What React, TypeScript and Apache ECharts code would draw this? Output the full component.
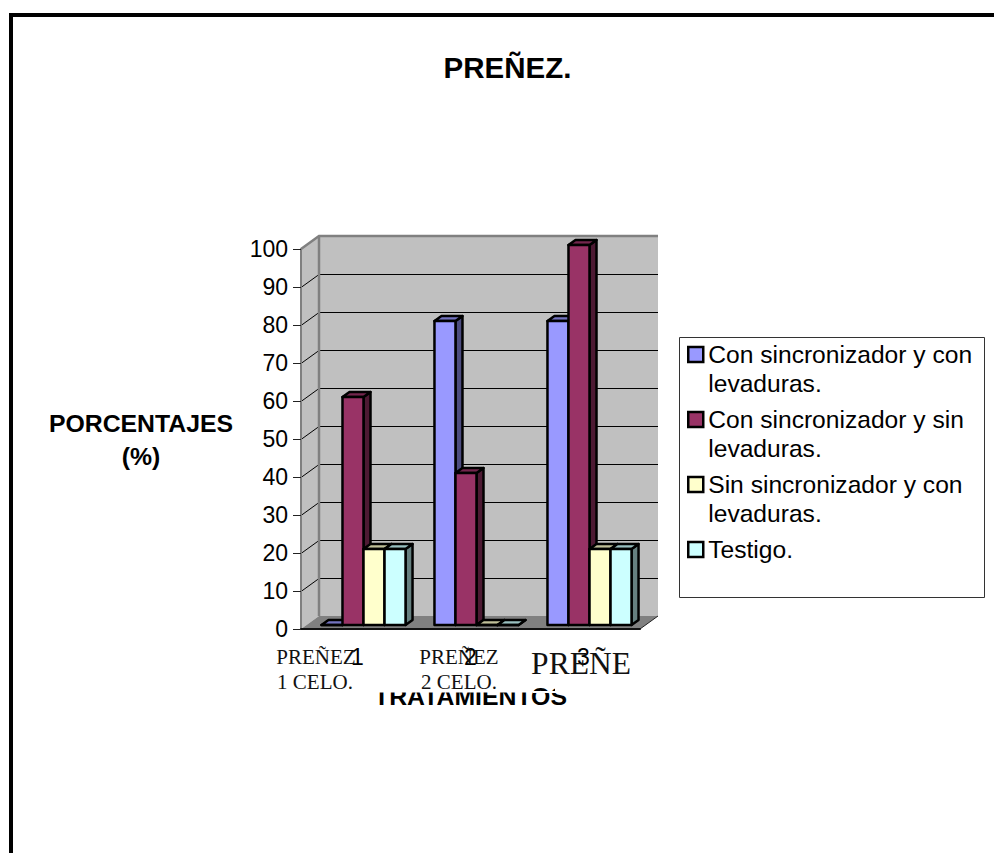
import React, { useEffect, useRef } from "react";
import * as echarts from "echarts";

const categories = ["1", "2", "3"];
const seriesNames = [
  "Con sincronizador y con\nlevaduras.",
  "Con sincronizador y sin\nlevaduras.",
  "Sin sincronizador y con\nlevaduras.",
  "Testigo.",
];
const conCon = [0, 80, 80];
const conSin = [60, 40, 100];
const sinCon = [20, 0, 20];
const testigo = [20, 0, 20];
const seriesValues = [conCon, conSin, sinCon, testigo];
const frontColors = ["#9999FF", "#993366", "#FFFFCC", "#CCFFFF"];
const sideColors = ["#4D4D80", "#4D1A33", "#808066", "#668080"];
const topColors = ["#7373BF", "#73264D", "#BFBF99", "#99BFBF"];
const yTicks = [10, 20, 30, 40, 50, 60, 70, 80, 90];
const SANS = "'Liberation Sans', Arial, sans-serif";
const SERIF = "'Liberation Serif', 'Times New Roman', serif";

const WALL_DX = 18;
const WALL_DY = -13;
const BAR_DX = 7;
const BAR_DY = -5;

function renderWalls(_p: any, api: any) {
  const w = api.size([1, 0])[0];
  const x0 = api.coord([0, 0])[0] - w / 2;
  const x1 = api.coord([categories.length - 1, 0])[0] + w / 2;
  const y0 = api.coord([0, 0])[1];
  const y100 = api.coord([0, 100])[1];
  const bx0 = x0 + WALL_DX;
  const bx1 = x1 + WALL_DX;
  const by0 = y0 + WALL_DY;
  const by100 = y100 + WALL_DY;
  const children: any[] = [
    { type: "rect", shape: { x: bx0, y: by100, width: bx1 - bx0, height: by0 - by100 }, style: { fill: "#C0C0C0" } },
    { type: "polygon", shape: { points: [[x0, y0], [bx0, by0], [bx0, by100], [x0, y100]] }, style: { fill: "#C0C0C0" } },
    { type: "polygon", shape: { points: [[x0, y0], [x1, y0], [bx1, by0], [bx0, by0]] }, style: { fill: "#808080" } },
  ];
  yTicks.forEach((v) => {
    const y = api.coord([0, v])[1] + 0.5;
    children.push({
      type: "polyline",
      shape: { points: [[x0, y], [bx0, y + WALL_DY], [bx1, y + WALL_DY]] },
      style: { fill: "none", stroke: "#000", lineWidth: 1 },
    });
  });
  children.push({
    type: "polyline",
    shape: { points: [[x0, y100], [bx0, by100], [bx1, by100]] },
    style: { fill: "none", stroke: "#808080", lineWidth: 2.5 },
  });
  children.push({
    type: "line",
    shape: { x1: bx0, y1: by100, x2: bx0, y2: by0 },
    style: { stroke: "#808080", lineWidth: 2.5 },
  });
  children.push({
    type: "line",
    shape: { x1: bx1, y1: by0, x2: x1, y2: y0 },
    style: { stroke: "#222", lineWidth: 1 },
  });
  return { type: "group", children };
}

function makeBarRenderer(k: number) {
  return (_p: any, api: any) => {
    const cat = api.value(0);
    const val = api.value(1);
    const base = api.coord([cat, 0]);
    const top = api.coord([cat, val]);
    const bw = api.size([1, 0])[0] * 0.186;
    const xl = base[0] + 6 - 2 * bw + k * bw;
    const xr = xl + bw;
    const yb = base[1] - 4;
    const yt = top[1] - 4;
    const stroke = { stroke: "#000", lineWidth: 2.5, lineJoin: "round" };
    return {
      type: "group",
      children: [
        { type: "polygon", shape: { points: [[xr, yb], [xr + BAR_DX, yb + BAR_DY], [xr + BAR_DX, yt + BAR_DY], [xr, yt]] }, style: { fill: sideColors[k], ...stroke } },
        { type: "polygon", shape: { points: [[xl, yt], [xr, yt], [xr + BAR_DX, yt + BAR_DY], [xl + BAR_DX, yt + BAR_DY]] }, style: { fill: topColors[k], ...stroke } },
        { type: "rect", shape: { x: xl, y: yt, width: bw, height: yb - yt }, style: { fill: frontColors[k], ...stroke } },
      ],
    };
  };
}

export default function App() {
  const ref = useRef<HTMLDivElement>(null);
  useEffect(() => {
    const chart = echarts.init(ref.current!, undefined, { renderer: "svg" });
    const serif = (text: string, x: number, y: number, size: number) => ({
      type: "text",
      z: 7,
      style: { text, x, y, align: "center", verticalAlign: "middle", font: `${size}px ${SERIF}`, fill: "#111" },
    });
    const white = (x: number, y: number, width: number, height: number) => ({
      type: "rect",
      z: 6,
      shape: { x, y, width, height },
      style: { fill: "#fff" },
    });
    chart.setOption({
      animation: false,
      backgroundColor: "#fff",
      title: {
        text: "PREÑEZ.",
        left: 507.5,
        top: 52,
        textAlign: "center",
        textStyle: { fontFamily: SANS, fontSize: 29.5, fontWeight: "bold", color: "#000" },
        padding: 0,
      },
      grid: { left: 301, top: 249, width: 339, height: 380 },
      xAxis: {
        type: "category",
        data: categories,
        z: 3,
        axisLine: { lineStyle: { color: "#111", width: 2 } },
        axisTick: { length: 9, alignWithLabel: false, lineStyle: { color: "#555", width: 1 } },
        axisLabel: { fontFamily: SANS, fontSize: 23, color: "#000", margin: 16 },
      },
      yAxis: {
        type: "value",
        min: 0,
        max: 100,
        interval: 10,
        z: 3,
        splitLine: { show: false },
        axisLine: { show: true, lineStyle: { color: "#808080", width: 2 } },
        axisTick: { show: true, length: 8, lineStyle: { color: "#222", width: 1 } },
        axisLabel: { fontFamily: SANS, fontSize: 23, color: "#000", margin: 13 },
      },
      legend: {
        orient: "vertical",
        left: 687,
        top: 311,
        padding: 0,
        icon: "rect",
        itemWidth: 15,
        itemHeight: 15,
        itemGap: -22,
        selectedMode: false,
        itemStyle: { borderColor: "#000", borderWidth: 2.5 },
        textStyle: { fontFamily: SANS, fontSize: 24.6, lineHeight: 29, color: "#000" },
        formatter: (name: string) => (name.includes("\n") ? `\n${name}` : `\n${name}\n`),
        data: seriesNames,
      },
      graphic: [
        { type: "rect", z: 0, shape: { x: 9, y: 13, width: 4, height: 840 }, style: { fill: "#000" } },
        { type: "rect", z: 0, shape: { x: 9, y: 13, width: 985, height: 4 }, style: { fill: "#000" } },
        { type: "rect", z: 0, shape: { x: 679.5, y: 337.5, width: 305, height: 260 }, style: { fill: "#fff", stroke: "#333", lineWidth: 1 } },
        {
          type: "text",
          z: 1,
          style: { text: "PORCENTAJES", x: 141, y: 423, align: "center", verticalAlign: "middle", font: `bold 24.8px ${SANS}`, fill: "#000" },
        },
        {
          type: "text",
          z: 1,
          style: { text: "(%)", x: 141, y: 456, align: "center", verticalAlign: "middle", font: `bold 24.8px ${SANS}`, fill: "#000" },
        },
        {
          type: "text",
          z: 5,
          style: { text: "TRATAMIENTOS", x: 470.5, y: 696.5, align: "center", verticalAlign: "middle", font: `bold 24.8px ${SANS}`, fill: "#000" },
        },
        white(370, 672, 163, 20.5),
        white(533, 691, 37, 2),
        white(555, 672, 15, 21),
        serif("PREÑEZ", 316, 657, 21),
        serif("1 CELO.", 315, 682, 21),
        serif("PREÑEZ", 459, 657, 21),
        serif("2 CELO.", 459, 682, 21),
        serif("PREÑE", 581, 663, 31.5),
      ],
      series: [
        {
          type: "custom",
          name: "walls",
          z: 1,
          silent: true,
          data: [[0, 0]],
          renderItem: renderWalls,
        },
        ...seriesNames.map((name, k) => ({
          type: "custom",
          name,
          z: 2,
          itemStyle: { color: frontColors[k] },
          encode: { x: 0, y: 1 },
          data: seriesValues[k].map((v, i) => [i, v]),
          renderItem: makeBarRenderer(k),
        })),
      ],
    });
    return () => chart.dispose();
  }, []);
  return <div ref={ref} style={{ position: "fixed", left: 0, top: 0, width: 994, height: 853 }} />;
}
